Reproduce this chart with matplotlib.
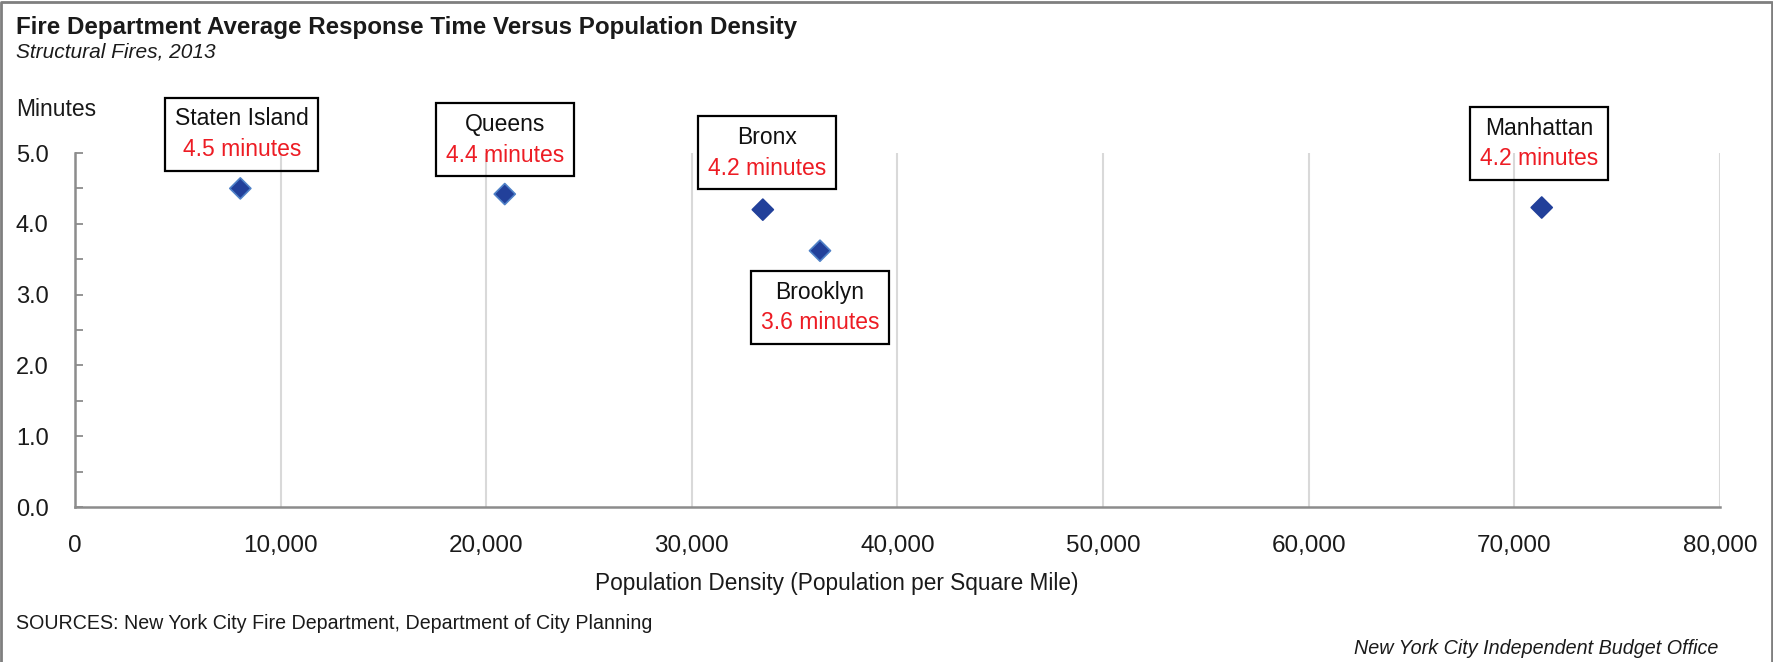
import matplotlib
matplotlib.use('Agg')
import matplotlib.pyplot as plt
from matplotlib.offsetbox import TextArea, VPacker, AnnotationBbox
from matplotlib.ticker import FuncFormatter, MultipleLocator
from matplotlib.lines import Line2D

plt.rcParams['font.family'] = ['Liberation Sans', 'DejaVu Sans']

# data
boroughs = ['Staten Island', 'Queens', 'Bronx', 'Brooklyn', 'Manhattan']
density = [8040, 20900, 33450, 36230, 71330]          # population per sq mile
response_minutes = [4.50, 4.42, 4.20, 3.62, 4.23]
minute_labels = ['4.5 minutes', '4.4 minutes', '4.2 minutes', '3.6 minutes', '4.2 minutes']

# where each callout box sits, in points from its marker
label_offsets = [(1, 39), (0, 39), (3, 41), (0, -41), (-2, 46)]
edge_colors = ['#4F81C7', '#4F81C7', '#22409A', '#4F81C7', '#22409A']

W, H = 1774, 662
fig = plt.figure(figsize=(W / 100, H / 100), dpi=100)
ax = fig.add_axes([75 / W, 155 / H, 1645 / W, 354 / H])

ax.scatter(density, response_minutes, marker='D', s=115, c='#22409A',
           edgecolors=edge_colors, linewidths=1.2, zorder=4, clip_on=False)

ax.set_xlim(0, 80000)
ax.set_ylim(0, 5)
ax.xaxis.set_major_locator(MultipleLocator(10000))
ax.xaxis.set_major_formatter(FuncFormatter(lambda v, p: f'{v:,.0f}'))
ax.yaxis.set_major_locator(MultipleLocator(1))
ax.yaxis.set_minor_locator(MultipleLocator(0.5))
ax.yaxis.set_major_formatter(FuncFormatter(lambda v, p: f'{v:.1f}'))

ax.grid(axis='x', color='#d9d9d9', linewidth=1.5, zorder=2)
ax.set_axisbelow(False)
for side in ['top', 'right']:
    ax.spines[side].set_visible(False)
for side in ['left', 'bottom']:
    ax.spines[side].set_color('#8c8c8c')
    ax.spines[side].set_linewidth(1.8)
    ax.spines[side].set_zorder(3)

ax.tick_params(axis='y', which='both', direction='in', length=5.5, width=1.3,
               color='#8c8c8c', pad=19, labelsize=17, labelcolor='#1a1a1a')
ax.tick_params(axis='x', length=0, pad=20, labelsize=17.5, labelcolor='#1a1a1a')

# callout boxes
for x, y, name, mins, off in zip(density, response_minutes, boroughs, minute_labels, label_offsets):
    top = TextArea(name, textprops=dict(color='#111111', fontsize=16.5))
    bot = TextArea(mins, textprops=dict(color='#ED1C24', fontsize=16.5))
    pack = VPacker(children=[top, bot], align='center', pad=7, sep=5.5)
    ab = AnnotationBbox(pack, (x, y), xybox=off, xycoords='data',
                        boxcoords='offset points', frameon=True, pad=0,
                        bboxprops=dict(edgecolor='black', linewidth=1.6, facecolor='none'))
    ab.set_zorder(5)
    ax.add_artist(ab)

# texts
fig.text(16 / W, 1 - 34 / H, 'Fire Department Average Response Time Versus Population Density',
         fontsize=17.4, fontweight='bold', va='baseline', ha='left', color='#1a1a1a')
fig.text(16 / W, 1 - 57 / H, 'Structural Fires, 2013', fontsize=15, style='italic',
         va='baseline', ha='left', color='#1a1a1a')
fig.text(16 / W, 1 - 116 / H, 'Minutes', fontsize=16.5, va='baseline', ha='left', color='#1a1a1a')
fig.text(595 / W, 1 - 590 / H, 'Population Density (Population per Square Mile)', fontsize=16.3,
         va='baseline', ha='left', color='#1a1a1a')
fig.text(16 / W, 1 - 629 / H, 'SOURCES: New York City Fire Department, Department of City Planning',
         fontsize=14.1, va='baseline', ha='left', color='#1a1a1a')
fig.text(1718 / W, 1 - 654 / H, 'New York City Independent Budget Office', fontsize=14.2,
         style='italic', va='baseline', ha='right', color='#1a1a1a')

# frame around the whole graphic (left, top, right)
fig.add_artist(Line2D([1.5 / W, 1.5 / W, 1 - 2 / W, 1 - 2 / W], [0, 1 - 1.5 / H, 1 - 1.5 / H, 0],
                      transform=fig.transFigure, color='#7f7f7f', linewidth=2))

fig.savefig('out.png', dpi=100)
